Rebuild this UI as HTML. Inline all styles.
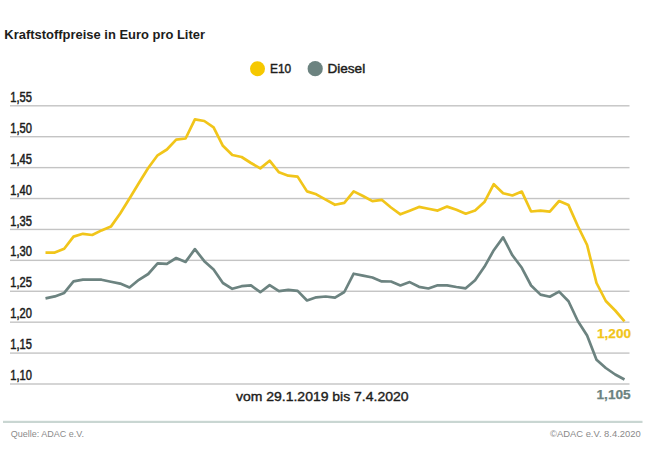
<!DOCTYPE html>
<html><head><meta charset="utf-8"><style>
html,body{margin:0;padding:0;background:#fff;}
body{width:650px;height:469px;overflow:hidden;font-family:"Liberation Sans",sans-serif;}
svg{display:block;}
</style></head><body>
<svg width="650" height="469" viewBox="0 0 650 469">
<text x="4.3" y="38.8" font-family="Liberation Sans, sans-serif" font-size="13.6" font-weight="bold" fill="#1d1d1b" textLength="200.7" lengthAdjust="spacingAndGlyphs">Kraftstoffpreise in Euro pro Liter</text>
<circle cx="257.5" cy="68.7" r="7.5" fill="#f6c800"/>
<text x="270" y="73.4" font-family="Liberation Sans, sans-serif" font-size="13.2" fill="#1d1d1b" stroke="#1d1d1b" stroke-width="0.45" textLength="21.2" lengthAdjust="spacingAndGlyphs">E10</text>
<circle cx="315.2" cy="68.7" r="7.6" fill="#6c8380"/>
<text x="327.4" y="73.4" font-family="Liberation Sans, sans-serif" font-size="13.2" fill="#1d1d1b" stroke="#1d1d1b" stroke-width="0.45" textLength="37.8" lengthAdjust="spacingAndGlyphs">Diesel</text>
<rect x="10" y="105.10" width="619.5" height="1.4" fill="#c4c4c4"/>
<text x="10.2" y="101.90" font-family="Liberation Sans, sans-serif" font-size="13.8" fill="#1d1d1b" stroke="#1d1d1b" stroke-width="0.5" textLength="21.7" lengthAdjust="spacingAndGlyphs">1,55</text>
<rect x="10" y="136.01" width="619.5" height="1.4" fill="#c4c4c4"/>
<text x="10.2" y="132.81" font-family="Liberation Sans, sans-serif" font-size="13.8" fill="#1d1d1b" stroke="#1d1d1b" stroke-width="0.5" textLength="21.7" lengthAdjust="spacingAndGlyphs">1,50</text>
<rect x="10" y="166.92" width="619.5" height="1.4" fill="#c4c4c4"/>
<text x="10.2" y="163.72" font-family="Liberation Sans, sans-serif" font-size="13.8" fill="#1d1d1b" stroke="#1d1d1b" stroke-width="0.5" textLength="21.7" lengthAdjust="spacingAndGlyphs">1,45</text>
<rect x="10" y="197.83" width="619.5" height="1.4" fill="#c4c4c4"/>
<text x="10.2" y="194.63" font-family="Liberation Sans, sans-serif" font-size="13.8" fill="#1d1d1b" stroke="#1d1d1b" stroke-width="0.5" textLength="21.7" lengthAdjust="spacingAndGlyphs">1,40</text>
<rect x="10" y="228.74" width="619.5" height="1.4" fill="#c4c4c4"/>
<text x="10.2" y="225.54" font-family="Liberation Sans, sans-serif" font-size="13.8" fill="#1d1d1b" stroke="#1d1d1b" stroke-width="0.5" textLength="21.7" lengthAdjust="spacingAndGlyphs">1,35</text>
<rect x="10" y="259.66" width="619.5" height="1.4" fill="#c4c4c4"/>
<text x="10.2" y="256.46" font-family="Liberation Sans, sans-serif" font-size="13.8" fill="#1d1d1b" stroke="#1d1d1b" stroke-width="0.5" textLength="21.7" lengthAdjust="spacingAndGlyphs">1,30</text>
<rect x="10" y="290.57" width="619.5" height="1.4" fill="#c4c4c4"/>
<text x="10.2" y="287.37" font-family="Liberation Sans, sans-serif" font-size="13.8" fill="#1d1d1b" stroke="#1d1d1b" stroke-width="0.5" textLength="21.7" lengthAdjust="spacingAndGlyphs">1,25</text>
<rect x="10" y="321.48" width="619.5" height="1.4" fill="#c4c4c4"/>
<text x="10.2" y="318.28" font-family="Liberation Sans, sans-serif" font-size="13.8" fill="#1d1d1b" stroke="#1d1d1b" stroke-width="0.5" textLength="21.7" lengthAdjust="spacingAndGlyphs">1,20</text>
<rect x="10" y="352.39" width="619.5" height="1.4" fill="#c4c4c4"/>
<text x="10.2" y="349.19" font-family="Liberation Sans, sans-serif" font-size="13.8" fill="#1d1d1b" stroke="#1d1d1b" stroke-width="0.5" textLength="21.7" lengthAdjust="spacingAndGlyphs">1,15</text>
<rect x="10" y="383.30" width="619.5" height="1.4" fill="#c4c4c4"/>
<text x="10.2" y="380.10" font-family="Liberation Sans, sans-serif" font-size="13.8" fill="#1d1d1b" stroke="#1d1d1b" stroke-width="0.5" textLength="21.7" lengthAdjust="spacingAndGlyphs">1,10</text>
<polyline points="45.5,252.6 54.8,252.6 64.2,248.8 73.5,236.6 82.9,233.8 92.2,235.0 101.5,230.4 110.9,226.6 120.2,213.5 129.5,198.5 138.9,183.0 148.2,168.0 157.6,155.3 166.9,149.5 176.2,139.6 185.6,138.5 194.9,119.3 204.3,121.0 213.6,127.4 222.9,145.8 232.3,155.0 241.6,157.0 251.0,163.0 260.3,168.4 269.6,160.7 279.0,172.3 288.3,175.7 297.6,176.6 307.0,191.4 316.3,194.3 325.7,199.7 335.0,204.8 344.3,202.9 353.7,191.4 363.0,196.0 372.4,201.1 381.7,199.8 391.0,207.5 400.4,214.3 409.7,210.7 419.0,206.9 428.4,208.8 437.7,210.6 447.1,206.6 456.4,209.8 465.7,213.7 475.1,210.5 484.4,202.1 493.8,184.2 503.1,193.3 512.4,195.5 521.8,191.6 531.1,211.5 540.5,210.7 549.8,211.7 559.1,201.0 568.5,205.1 577.8,226.0 587.1,245.0 596.5,283.0 605.8,301.0 615.2,310.5 624.5,321.3" fill="none" stroke="#f1c51a" stroke-width="2.7" stroke-linejoin="round" stroke-linecap="butt"/>
<polyline points="45.5,298.4 54.8,296.4 64.2,292.9 73.5,281.4 82.9,279.7 92.2,279.7 101.5,279.7 110.9,281.7 120.2,283.6 129.5,287.5 138.9,279.8 148.2,274.0 157.6,263.4 166.9,263.8 176.2,258.0 185.6,261.9 194.9,249.1 204.3,261.2 213.6,269.6 222.9,283.0 232.3,288.8 241.6,286.2 251.0,285.4 260.3,292.2 269.6,285.1 279.0,291.1 288.3,289.8 297.6,290.9 307.0,300.5 316.3,297.3 325.7,296.5 335.0,297.6 344.3,292.0 353.7,273.7 363.0,275.6 372.4,277.5 381.7,281.4 391.0,281.5 400.4,285.4 409.7,282.1 419.0,286.8 428.4,288.5 437.7,285.3 447.1,285.3 456.4,287.0 465.7,288.3 475.1,280.2 484.4,266.8 493.8,250.2 503.1,237.4 512.4,255.3 521.8,267.8 531.1,285.5 540.5,294.6 549.8,296.7 559.1,291.6 568.5,301.2 577.8,321.0 587.1,335.5 596.5,359.8 605.8,368.0 615.2,374.5 624.5,379.5" fill="none" stroke="#6c8380" stroke-width="2.7" stroke-linejoin="round" stroke-linecap="butt"/>
<text x="597" y="337.5" font-family="Liberation Sans, sans-serif" font-size="13.6" font-weight="bold" fill="#f1c51a" stroke="#f1c51a" stroke-width="0.25" textLength="34" lengthAdjust="spacingAndGlyphs">1,200</text>
<text x="596.5" y="399" font-family="Liberation Sans, sans-serif" font-size="13.6" font-weight="bold" fill="#6c8380" stroke="#6c8380" stroke-width="0.25" textLength="34.2" lengthAdjust="spacingAndGlyphs">1,105</text>
<text x="236" y="400.8" font-family="Liberation Sans, sans-serif" font-size="13.5" fill="#1d1d1b" stroke="#1d1d1b" stroke-width="0.4" textLength="172.5" lengthAdjust="spacingAndGlyphs">vom 29.1.2019 bis 7.4.2020</text>
<rect x="3" y="420.8" width="639.5" height="2.2" fill="#c9d6d2"/>
<text x="10.8" y="436.6" font-family="Liberation Sans, sans-serif" font-size="8.8" fill="#8a8a8a" textLength="73.2" lengthAdjust="spacingAndGlyphs">Quelle: ADAC e.V.</text>
<text x="550" y="436.6" font-family="Liberation Sans, sans-serif" font-size="8.8" fill="#8a8a8a" textLength="90.7" lengthAdjust="spacingAndGlyphs">©ADAC e.V. 8.4.2020</text>
</svg>
</body></html>
